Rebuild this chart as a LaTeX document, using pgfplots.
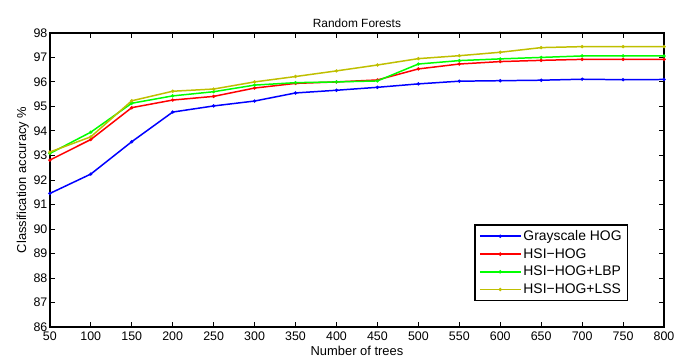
\documentclass[border=0pt]{standalone}
\usepackage{pgfplots}
\pgfplotsset{compat=1.18}
\usepackage{fontspec}
\setmainfont{Liberation Sans}
\definecolor{mblue}{rgb}{0,0,1}
\definecolor{mred}{rgb}{1,0,0}
\definecolor{mgreen}{rgb}{0,1,0}
\definecolor{molive}{rgb}{0.75,0.75,0}
\begin{document}
\begin{tikzpicture}
\useasboundingbox (-50bp,-35bp) rectangle (627bp,328bp);
\begin{axis}[
  at={(0,0)}, anchor=south west,
  scale only axis,
  width=616bp, height=295bp,
  xmin=50, xmax=800, ymin=86, ymax=98,
  xtick={50,100,...,800},
  ytick={86,87,...,98},
  tick align=inside,
  major tick length=5bp,
  axis line style={line width=1.5bp},
  every tick/.style={black, line width=0.9bp},
  /pgf/number format/assume math mode=true,
  tick label style={font=\fontsize{12.5}{14}\selectfont},
  xticklabel style={yshift=-1bp},
  yticklabel style={xshift=1bp},
  title={Random Forests},
  title style={font=\fontsize{12}{13}\selectfont, yshift=-4bp},
  xlabel={Number of trees},
  ylabel={Classification accuracy \%},
  label style={font=\fontsize{13}{14}\selectfont},
  xlabel style={yshift=1bp},
  ylabel style={yshift=-2bp},
  legend style={at={(0.9416,0.088)}, anchor=south east, font=\fontsize{14}{15}\selectfont,
    draw=black, line width=1.2bp, inner xsep=4bp, inner ysep=3.5bp, row sep=2.5bp, cells={anchor=west}},
  legend cell align=left,
  legend image code/.code={
    \draw[line width=1.6bp, mark repeat=2, mark phase=2] plot coordinates {(0bp,0bp) (20.5bp,0bp) (41bp,0bp)};
  },
  every axis plot/.append style={line width=1.5bp, mark=*, mark size=0.8bp},
]
\addplot[mblue, mark options={fill=mblue}] coordinates {
(50,91.45)(100,92.24)(150,93.56)(200,94.77)(250,95.02)(300,95.22)(350,95.55)(400,95.66)
(450,95.78)(500,95.92)(550,96.03)(600,96.05)(650,96.07)(700,96.11)(750,96.09)(800,96.10)};
\addlegendentry{Grayscale HOG}
\addplot[mred, mark options={fill=mred}] coordinates {
(50,92.81)(100,93.65)(150,94.95)(200,95.26)(250,95.41)(300,95.75)(350,95.94)(400,96.00)
(450,96.08)(500,96.53)(550,96.73)(600,96.83)(650,96.88)(700,96.92)(750,96.92)(800,96.92)};
\addlegendentry{HSI−HOG}
\addplot[mgreen, mark options={fill=mgreen}] coordinates {
(50,93.08)(100,93.95)(150,95.13)(200,95.43)(250,95.60)(300,95.87)(350,95.97)(400,96.00)
(450,96.04)(500,96.73)(550,96.87)(600,96.94)(650,97.00)(700,97.06)(750,97.06)(800,97.06)};
\addlegendentry{HSI−HOG+LBP}
\addplot[molive, mark options={fill=molive}] coordinates {
(50,93.14)(100,93.76)(150,95.23)(200,95.62)(250,95.71)(300,96.00)(350,96.22)(400,96.45)
(450,96.69)(500,96.95)(550,97.07)(600,97.21)(650,97.40)(700,97.44)(750,97.44)(800,97.44)};
\addlegendentry{HSI−HOG+LSS}
\end{axis}
\end{tikzpicture}
\end{document}
